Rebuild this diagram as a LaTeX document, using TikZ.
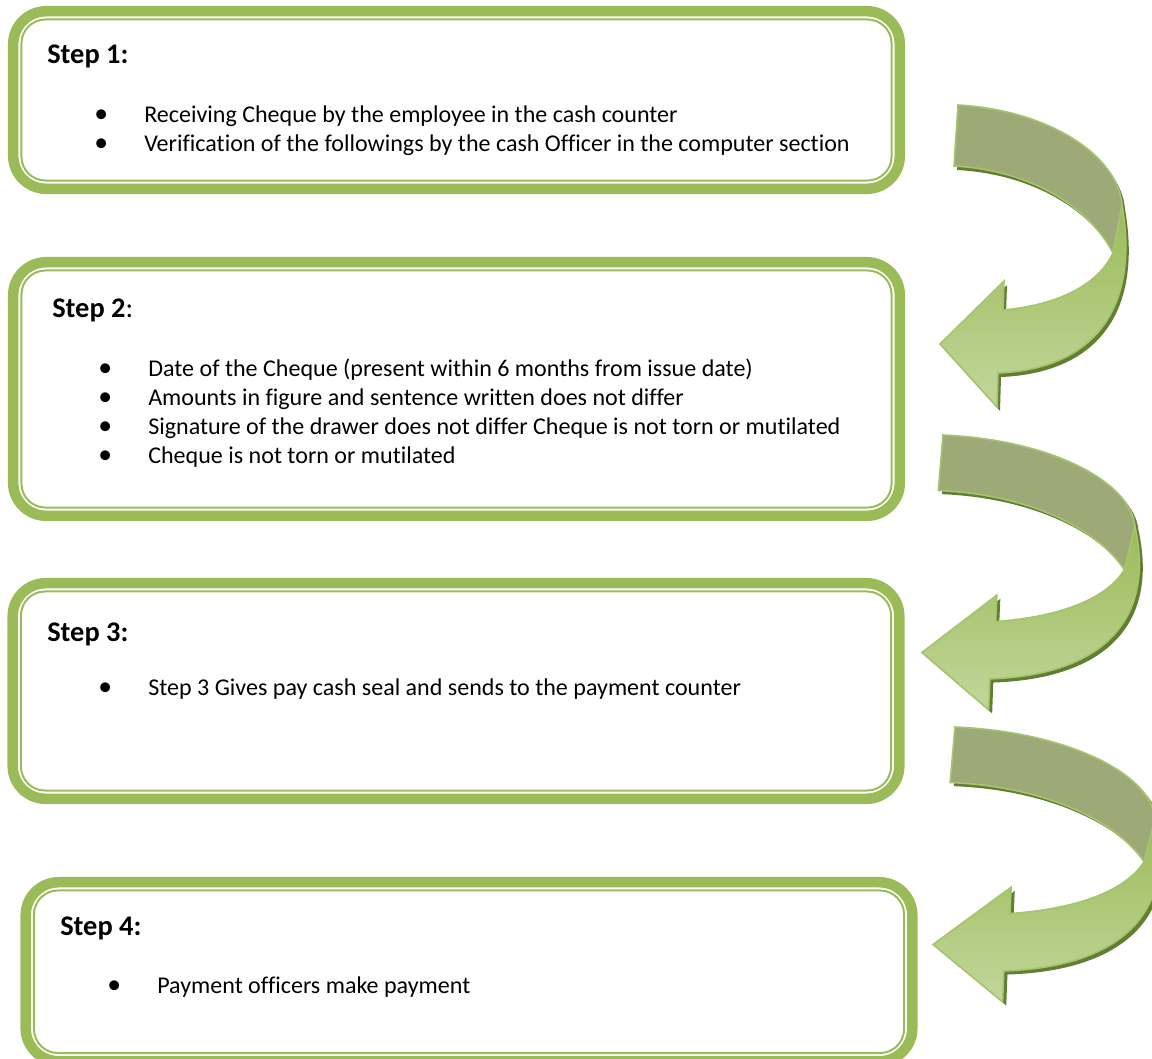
\documentclass[tikz,border=0pt]{standalone}
\usepackage{fontspec}
\setmainfont{Carlito}[Ligatures=NoCommon]
\usepackage{xcolor}
\usetikzlibrary{fit}
\definecolor{boxgreen}{HTML}{9BBB59}
\definecolor{arrowback}{HTML}{9DAA78}
\definecolor{arrowtop}{HTML}{9BBB59}
\definecolor{arrowbottom}{HTML}{C2D69B}
\definecolor{arrowedge}{HTML}{A6C46E}
\definecolor{arrowdark}{HTML}{627E32}
\newcommand\bul{\makebox[0pt]{\scalebox{1.15}{\textbullet}}\hspace*{1.075cm}}

\begin{document}
\begin{tikzpicture}[x=0.025cm,y=-0.025cm]
\tikzstyle{stepbox}=[rectangle, rounded corners=0.825cm, draw=boxgreen, line width=0.2625cm, minimum width=22.16cm]
\tikzstyle{stepline}=[rectangle, rounded corners=0.6cm, draw=boxgreen, line width=0.05cm, inner sep=-0.3375cm]
\tikzstyle{steptitle}=[anchor=base west, inner sep=0pt, font=\fontsize{20.2}{24}\selectfont\bfseries]
\tikzstyle{itemline}=[anchor=base west, inner sep=0pt, font=\fontsize{17.1}{20.6}\selectfont]
\tikzset{turnarrow/.pic={
  \fill[arrowdark, shift={(3,4)}] (0,0) .. controls (90,5) and (160,50) .. (164,100)
    .. controls (182,205) and (135,264) .. (40,268) -- (39,302) -- (-18,239) -- (46,176) -- (45,205)
    .. controls (100,200) and (140,180) .. (155,148) .. controls (130,100) and (70,65) .. (-4,61) -- cycle;
  \shade[top color=arrowtop, bottom color=arrowbottom, draw=arrowedge, line width=0.04cm] (164,100)
    .. controls (182,205) and (135,264) .. (40,268) -- (39,302) -- (-18,239) -- (46,176) -- (45,205)
    .. controls (100,200) and (140,180) .. (155,148) -- cycle;
  \filldraw[fill=arrowback, draw=arrowedge, line width=0.04cm] (0,0) .. controls (90,5) and (160,50) .. (164,100)
    -- (155,148) .. controls (130,100) and (70,65) .. (-4,61) -- cycle;
}}
  \useasboundingbox (0,0) rectangle (1152,1059);
  % boxes
  \node[stepbox, minimum height=4.4375cm] (box1) at (456.5,100) {};
  \node[stepline, fit=(box1)] (box1in) {};
  \node[stepbox, minimum height=6.3375cm] (box2) at (456.5,389) {};
  \node[stepline, fit=(box2)] (box2in) {};
  \node[stepbox, minimum height=5.3875cm] (box3) at (456,691) {};
  \node[stepline, fit=(box3)] (box3in) {};
  \node[stepbox, minimum height=4.475cm] (box4) at (469,971.75) {};
  \node[stepline, fit=(box4)] (box4in) {};
  % texts
  \node[steptitle] (title1) at (47,63) {Step 1:};
  \node[itemline] (s1a) at (101,122.5) {\bul Receiving Cheque by the employee in the cash counter};
  \node[itemline] (s1b) at (101,151.5) {\bul Verification of the followings by the cash Officer in the computer section};
  \node[steptitle] (title2) at (52,317) {Step 2\mdseries:};
  \node[itemline] (s2a) at (105,376) {\bul Date of the Cheque (present within 6 months from issue date)};
  \node[itemline] (s2b) at (105,405) {\bul Amounts in figure and sentence written does not differ};
  \node[itemline] (s2c) at (105,434) {\bul Signature of the drawer does not differ Cheque is not torn or mutilated};
  \node[itemline] (s2d) at (105,463) {\bul Cheque is not torn or mutilated};
  \node[steptitle] (title3) at (47,641) {Step 3:};
  \node[itemline] (s3a) at (105,695.5) {\bul Step 3 Gives pay cash seal and sends to the payment counter};
  \node[steptitle] (title4) at (60,935) {Step 4:};
  \node[itemline] (s4a) at (114,993) {\bul Payment officers make payment};
  % arrows
  \pic (arrow1) at (958,105) {turnarrow};
  \pic[xscale=1.17, yscale=0.91] (arrow2) at (943,435) {turnarrow};
  \pic[xscale=1.22, yscale=0.91] (arrow3) at (955,727) {turnarrow};
\end{tikzpicture}
\end{document}
